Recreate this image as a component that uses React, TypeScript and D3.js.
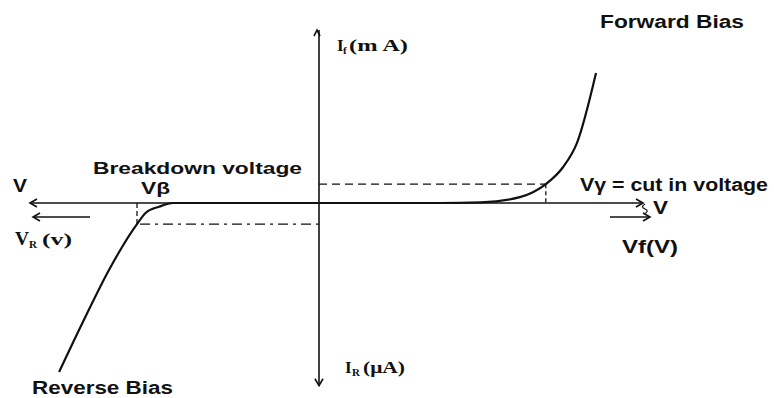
import React from "react";
import * as d3 from "d3";

// Forward-bias characteristic (V in volts, I in mA)
const FWD_V = [0, 0.37, 0.5, 0.62, 0.7, 0.753, 0.796, 0.855];
const FWD_I = [0, 0, 0.1, 0.9, 2.9, 5.5, 9.2, 20];
// Reverse-bias characteristic (V in volts, I in µA)
const REV_V = [0, -40, -44, -47.5, -50, -57.7, -64.6, -71.4];
const REV_I = [0, 0, -1.8, -4.5, -10, -31.7, -55.4, -80];
// Marked points
const CUT_IN = { v: 0.7, i: 2.9 };
const BREAKDOWN = { v: -50, i: -10 };
// Axis extents
const X_EXTENT_FWD = 1.0;
const X_EXTENT_REV = -79.4;
const Y_EXTENT_FWD = 26.6;
const Y_EXTENT_REV = -86.5;

const W = 774;
const H = 398;

const xF = d3.scaleLinear().domain([0, 1]).range([319, 643]);
const xR = d3.scaleLinear().domain([-50, 0]).range([137, 319]);
const yF = d3.scaleLinear().domain([0, 20]).range([203, 73]);
const yR = d3.scaleLinear().domain([-80, 0]).range([372, 203]);

const SANS = "'Liberation Sans', Arial, sans-serif";
const SERIF = "'Liberation Serif', 'Times New Roman', serif";

function chevron(tipX: number, tipY: number, dir: "l" | "r" | "u" | "d", s = 7, w = 4) {
  if (dir === "l") return `M${tipX + s},${tipY - w}L${tipX},${tipY}L${tipX + s},${tipY + w}`;
  if (dir === "r") return `M${tipX - s},${tipY - w}L${tipX},${tipY}L${tipX - s},${tipY + w}`;
  if (dir === "u") return `M${tipX - w},${tipY + s}L${tipX},${tipY}L${tipX + w},${tipY + s}`;
  return `M${tipX - w},${tipY - s}L${tipX},${tipY}L${tipX + w},${tipY - s}`;
}

export default function App() {
  const fwdPts: [number, number][] = FWD_V.map((v, k) => [xF(v), yF(FWD_I[k])]);
  const revPts: [number, number][] = REV_V.map((v, k) => [xR(v), yR(REV_I[k])] as [number, number])
    .sort((a, b) => a[0] - b[0]);
  const line = d3.line().curve(d3.curveMonotoneX);

  const x0 = xF(0);
  const y0 = yF(0);
  const axL = xR(X_EXTENT_REV);
  const axR = xF(X_EXTENT_FWD);
  const axT = yF(Y_EXTENT_FWD);
  const axB = yR(Y_EXTENT_REV);

  const cx = xF(CUT_IN.v);
  const cy = yF(CUT_IN.i);
  const bx = xR(BREAKDOWN.v);
  const by = yR(BREAKDOWN.i);

  const txt = { fontFamily: SANS, fontWeight: 700, fontSize: 17.5, fill: "#111" } as const;
  const ser = { fontFamily: SERIF, fontWeight: 700, fill: "#111" } as const;

  return (
    <svg width={W} height={H} style={{ position: "absolute", left: 0, top: 0, background: "#fff" }}>
      <rect width={W} height={H} fill="#fff" />
      {/* axes */}
      <g stroke="#111" strokeWidth={1.6} fill="none">
        <line x1={axL} y1={y0} x2={axR} y2={y0} />
        <path d={chevron(axL, y0, "l")} />
        <path d={chevron(axR, y0, "r")} />
        <line x1={x0} y1={axT} x2={x0} y2={axB} />
        <path d={chevron(x0 - 2, axT, "u", 6, 3)} />
        <path d={chevron(x0, axB, "d")} />
        {/* secondary arrows */}
        <line x1={33} y1={217} x2={90} y2={217} />
        <path d={chevron(33, 217, "l")} />
        <line x1={610} y1={217} x2={650} y2={217} />
        <path d={chevron(650, 217, "r")} />
        <path d="M645,204 Q640,207 645,209 Q650,211 644,214" strokeWidth={1.2} />
      </g>
      {/* dashed guides */}
      <g stroke="#111" strokeWidth={1.3} fill="none" strokeDasharray="8,5">
        <line x1={x0} y1={cy} x2={cx} y2={cy} />
        <line x1={cx} y1={cy} x2={cx} y2={y0} strokeDasharray="4,3" />
        <line x1={bx} y1={y0} x2={bx} y2={by} strokeDasharray="5,3" />
        <line x1={bx + 3} y1={by} x2={x0} y2={by} strokeDasharray="10,5,3,5" />
      </g>
      {/* curves */}
      <path d={line(fwdPts) || ""} stroke="#111" strokeWidth={2.2} fill="none" />
      <path d={line(revPts) || ""} stroke="#111" strokeWidth={2.2} fill="none" />

      {/* sans labels */}
      <text x={600} y={28} {...txt} textLength={144} lengthAdjust="spacingAndGlyphs">Forward Bias</text>
      <text x={93} y={174} {...txt} fontSize={17} textLength={209} lengthAdjust="spacingAndGlyphs">Breakdown voltage</text>
      <text x={13} y={192} {...txt} textLength={14} lengthAdjust="spacingAndGlyphs">V</text>
      <text x={141} y={194} {...txt} fontSize={17} textLength={29} lengthAdjust="spacingAndGlyphs">Vβ</text>
      <text x={580} y={191} {...txt} textLength={188} lengthAdjust="spacingAndGlyphs">Vγ = cut in voltage</text>
      <text x={653} y={214} {...txt} textLength={15} lengthAdjust="spacingAndGlyphs">V</text>
      <text x={622} y={253} {...txt} textLength={56} lengthAdjust="spacingAndGlyphs">Vf(V)</text>
      <text x={32} y={394} {...txt} textLength={141} lengthAdjust="spacingAndGlyphs">Reverse Bias</text>

      {/* serif labels */}
      <text x={15} y={245} {...ser} fontSize={18} textLength={14} lengthAdjust="spacingAndGlyphs">V</text>
      <text x={29} y={248} {...ser} fontSize={11}>R</text>
      <text x={42} y={245} {...ser} fontSize={17} textLength={30} lengthAdjust="spacingAndGlyphs">(v)</text>

      <text x={337} y={51} {...ser} fontSize={17}>I</text>
      <text x={343} y={54} {...ser} fontSize={11}>f</text>
      <text x={349} y={51} {...ser} fontSize={17} textLength={59} lengthAdjust="spacingAndGlyphs">(m A)</text>

      <text x={345} y={373} {...ser} fontSize={17}>I</text>
      <text x={352} y={376} {...ser} fontSize={11}>R</text>
      <text x={363} y={373} {...ser} fontSize={17} textLength={42} lengthAdjust="spacingAndGlyphs">(μA)</text>
    </svg>
  );
}
